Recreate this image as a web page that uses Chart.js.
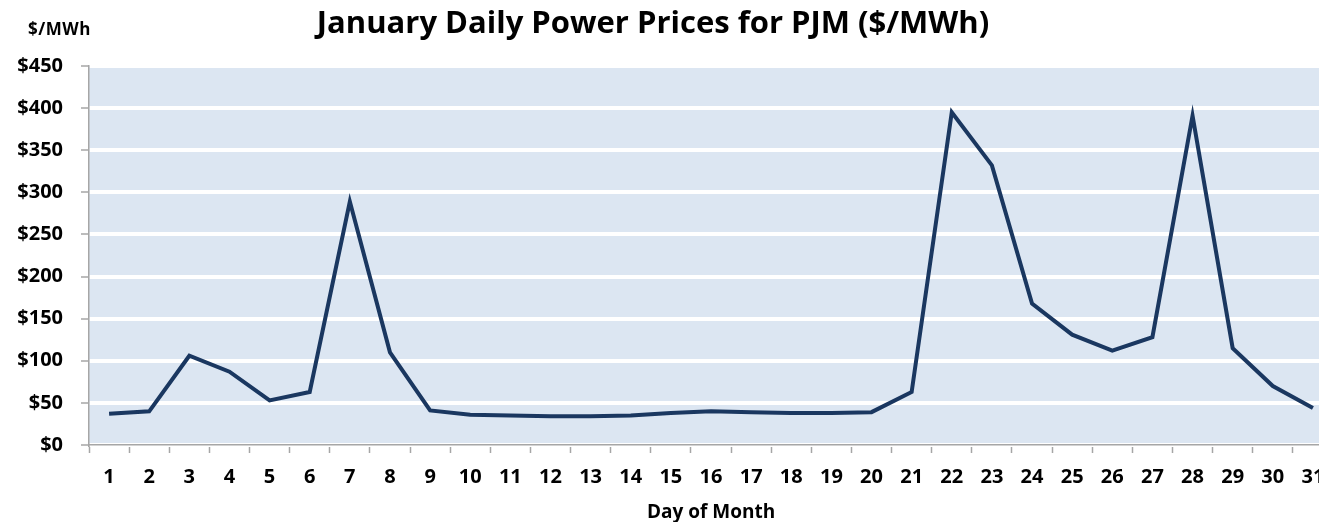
<!DOCTYPE html>
<html>
<head>
<meta charset="utf-8">
<script src="https://cdn.jsdelivr.net/npm/chart.js@4/dist/chart.umd.min.js"></script>
<style>
    html, body { margin: 0; padding: 0; overflow: hidden; background: #ffffff; }
    #wrap { position: relative; width: 1345px; height: 522px; }
    #title {
        position: absolute; left: 0; top: 0px; width: 1306px; text-align: center;
        font: bold 31px "Open Sans", sans-serif; color: #000; line-height: 42px;
    }
    #unit {
        position: absolute; left: 28px; top: 17px;
        font: bold 17px "Open Sans", sans-serif; color: #000; line-height: 24px; letter-spacing: 0.5px;
    }
</style>
</head>
<body>
<div id="wrap">
    <canvas id="price-chart" width="1345" height="522"></canvas>
    <div id="title">January Daily Power Prices for PJM ($/MWh)</div>
    <div id="unit">$/MWh</div>
</div>
<script>
// Day of month (x categories)
const days = ['1', '2', '3', '4', '5', '6', '7', '8', '9', '10', '11', '12', '13', '14', '15', '16',
    '17', '18', '19', '20', '21', '22', '23', '24', '25', '26', '27', '28', '29', '30', '31'];

// Daily PJM power price, $/MWh
const prices = [37, 40, 106, 87, 53, 63, 289, 110, 41, 36, 35, 34, 34, 35, 38, 40,
    39, 38, 38, 39, 63, 395, 332, 168, 131, 112, 128, 391, 115, 70, 44];

// Y axis range
const yMin = 0;
const yMax = 450;
const yStep = 50;

const axisGray = '#a6a6a6';
const tickFont = { family: 'Open Sans', size: 20, weight: 'bold' };

// Light blue plot area fill
const plotBackground = {
    id: 'plotBackground',
    beforeDraw(chart) {
        const { ctx, chartArea } = chart;
        ctx.save();
        ctx.fillStyle = '#dce6f2';
        ctx.fillRect(chartArea.left, chartArea.top, chartArea.right - chartArea.left, chartArea.bottom - chartArea.top);
        ctx.restore();
    }
};

const ctx = document.getElementById('price-chart').getContext('2d');
new Chart(ctx, {
    type: 'line',
    data: {
        labels: days,
        datasets: [{
            label: 'Price',
            data: prices,
            borderColor: '#1a3760',
            borderWidth: 4,
            pointRadius: 0,
            tension: 0,
            fill: false
        }]
    },
    options: {
        responsive: false,
        animation: false,
        layout: { padding: { top: 66, right: 12, left: 0, bottom: 0 } },
        plugins: {
            legend: { display: false },
            tooltip: { enabled: false }
        },
        scales: {
            x: {
                offset: true,
                grid: {
                    offset: true,
                    drawOnChartArea: false,
                    drawTicks: true,
                    tickLength: 8,
                    tickColor: axisGray,
                    tickWidth: 1.5
                },
                border: { color: axisGray, width: 1.5 },
                ticks: { color: '#000', font: tickFont, padding: 12, maxRotation: 0, autoSkip: false },
                title: {
                    display: true,
                    text: 'Day of Month',
                    color: '#000',
                    font: { family: 'Open Sans', size: 19, weight: 'bold', lineHeight: 1.0 },
                    padding: { top: 4, bottom: 0 }
                },
                afterFit(scale) { scale.height = 77; }
            },
            y: {
                min: yMin,
                max: yMax,
                grid: {
                    color: '#ffffff',
                    lineWidth: 4,
                    drawTicks: true,
                    tickLength: 8,
                    tickColor: axisGray,
                    tickWidth: 1.5
                },
                border: { color: axisGray, width: 1.5 },
                ticks: {
                    stepSize: yStep,
                    color: '#000',
                    font: tickFont,
                    padding: 18,
                    callback: function(value) {
                        return '$' + value;
                    }
                },
                afterFit(scale) { scale.width = 89; }
            }
        }
    },
    plugins: [plotBackground]
});
</script>
</body>
</html>
